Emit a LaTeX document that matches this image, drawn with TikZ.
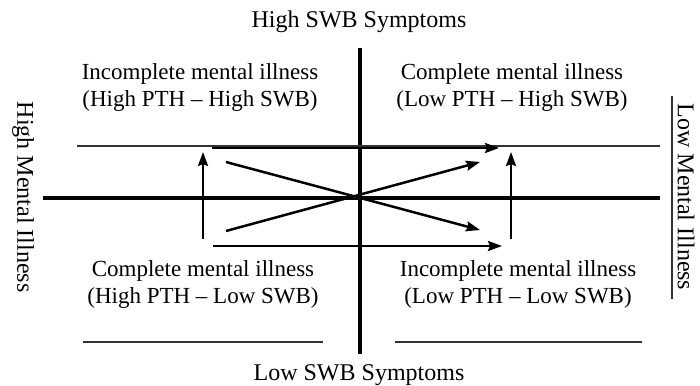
\documentclass[tikz,border=0pt]{standalone}
\usepackage{fontspec}
\setmainfont{Liberation Serif}
\usetikzlibrary{arrows.meta}
\begin{document}
\begin{tikzpicture}[x=0.5pt,y=-0.5pt,
  axis/.style={line width=1.9pt},
  thinline/.style={line width=0.55pt, black!80},
  flow/.style={line width=1.25pt, -{Stealth[length=7pt,width=5pt,inset=1pt]}},
  axlabel/.style={font=\fontsize{12}{14}\selectfont, inner sep=0pt},
  quad/.style={font=\fontsize{11.5}{13.5}\selectfont, align=center, inner sep=0pt}]
\useasboundingbox (0,0) rectangle (700,385);
% axes
\coordinate (vtop) at (360,48);
\coordinate (vbot) at (360,354);
\coordinate (hl) at (43,198);
\coordinate (hr) at (660,198);
\draw[axis] (vtop) -- (vbot);
\draw[axis] (hl) -- (hr);
% thin lines
\coordinate (t1) at (77,146);
\coordinate (t2) at (660,146);
\draw[thinline] (t1) -- (t2);
\coordinate (b1) at (83,342);
\coordinate (b2) at (323,342);
\draw[thinline] (b1) -- (b2);
\coordinate (b3) at (395,342);
\coordinate (b4) at (642,342);
\draw[thinline] (b3) -- (b4);
\coordinate (r1) at (672,96);
\coordinate (r2) at (672,299);
\draw[thinline] (r1) -- (r2);
% arrows
\coordinate (lu1) at (203,239);
\coordinate (lu2) at (203,152);
\draw[flow] (lu1) -- (lu2);
\coordinate (ru1) at (511,239);
\coordinate (ru2) at (511,152);
\draw[flow] (ru1) -- (ru2);
\coordinate (ta1) at (212,148);
\coordinate (ta2) at (499,148);
\draw[flow] (ta1) -- (ta2);
\coordinate (ba1) at (213,246);
\coordinate (ba2) at (502,246);
\draw[flow] (ba1) -- (ba2);
\coordinate (d1a) at (226,162);
\coordinate (d1b) at (480,230);
\draw[flow] (d1a) -- (d1b);
\coordinate (d2a) at (226,231);
\coordinate (d2b) at (480,162);
\draw[flow] (d2a) -- (d2b);
% labels
\node[axlabel] (top) at (359,22) {High SWB Symptoms};
\node[axlabel] (bot) at (359,375) {Low SWB Symptoms};
\node[axlabel, rotate=-90] (left) at (23,197) {High Mental Illness};
\node[axlabel, rotate=-90] (right) at (686,197) {Low Mental Illness};
\node[quad] (q1) at (200,88) {Incomplete mental illness\\(High PTH -- High SWB)};
\node[quad] (q2) at (512,88) {Complete mental illness\\(Low PTH -- High SWB)};
\node[quad] (q3) at (203,284) {Complete mental illness\\(High PTH -- Low SWB)};
\node[quad] (q4) at (518,284) {Incomplete mental illness\\(Low PTH -- Low SWB)};
\end{tikzpicture}
\end{document}
